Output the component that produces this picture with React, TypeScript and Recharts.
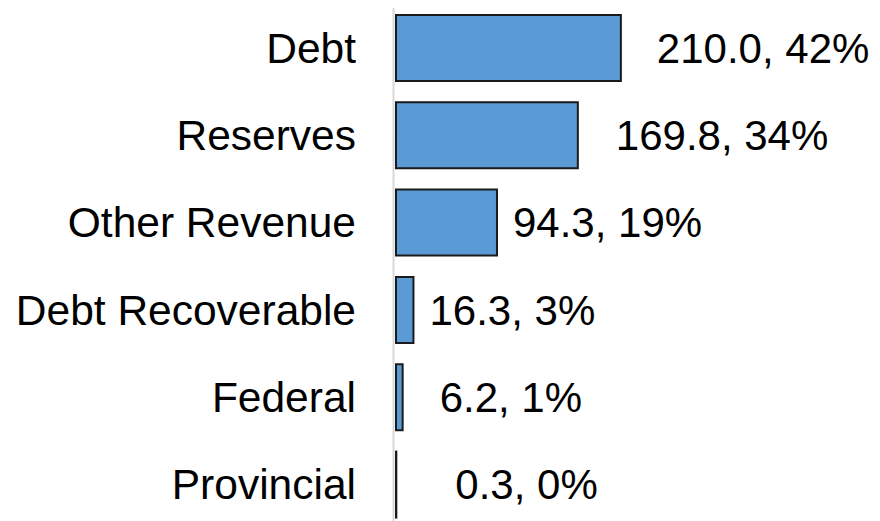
import React from 'react';
import { BarChart, Bar, XAxis, YAxis, LabelList } from 'recharts';

const categories = ['Debt', 'Reserves', 'Other Revenue', 'Debt Recoverable', 'Federal', 'Provincial'];
const amounts = [210.0, 169.8, 94.3, 16.3, 6.2, 0.3];
const shares = [42, 34, 19, 3, 1, 0];

// space between a bar's end and its label, per row (labels sit unevenly in the original)
const LABEL_GAP = [36, 38, 16, 16, 37, 59];

const FONT = '"Liberation Sans", Arial, sans-serif';
const TICK_SIZE = 42.5;
const LABEL_SIZE = 42;

const chartData = categories.map((name, i) => ({
  name,
  amount: amounts[i],
  share: shares[i],
}));

// Value label: "210.0, 42%" placed right of the bar end
const ValueLabel = (props: any) => {
  const { x, y, width, height, index } = props;
  const row = chartData[index];
  return (
    <text
      x={x + width + LABEL_GAP[index]}
      y={y + height / 2}
      dy="0.355em"
      textAnchor="start"
      fontFamily={FONT}
      fontSize={LABEL_SIZE}
      fill="#000"
    >
      {`${row.amount.toFixed(1)}, ${row.share}%`}
    </text>
  );
};

export default function App() {
  return (
    <div style={{ marginTop: -8, marginLeft: -8 }}>
      <BarChart
        width={880}
        height={532}
        data={chartData}
        layout="vertical"
        margin={{ top: 4, right: 0, bottom: 4, left: 0 }}
        barCategoryGap="12.5%"
      >
        <XAxis type="number" domain={[0, 452]} hide />
        <YAxis
          type="category"
          dataKey="name"
          width={396}
          tickLine={false}
          tickSize={0}
          tickMargin={40}
          axisLine={{ stroke: '#d9d9d9', strokeWidth: 2, transform: 'translate(-2.5,0)' }}
          tick={{ fontFamily: FONT, fontSize: TICK_SIZE, fill: '#000' }}
          interval={0}
        />
        <Bar
          dataKey="amount"
          fill="#5b9bd5"
          stroke="#1a1a1a"
          strokeWidth={2}
          isAnimationActive={false}
        >
          <LabelList dataKey="amount" content={<ValueLabel />} />
        </Bar>
      </BarChart>
    </div>
  );
}
